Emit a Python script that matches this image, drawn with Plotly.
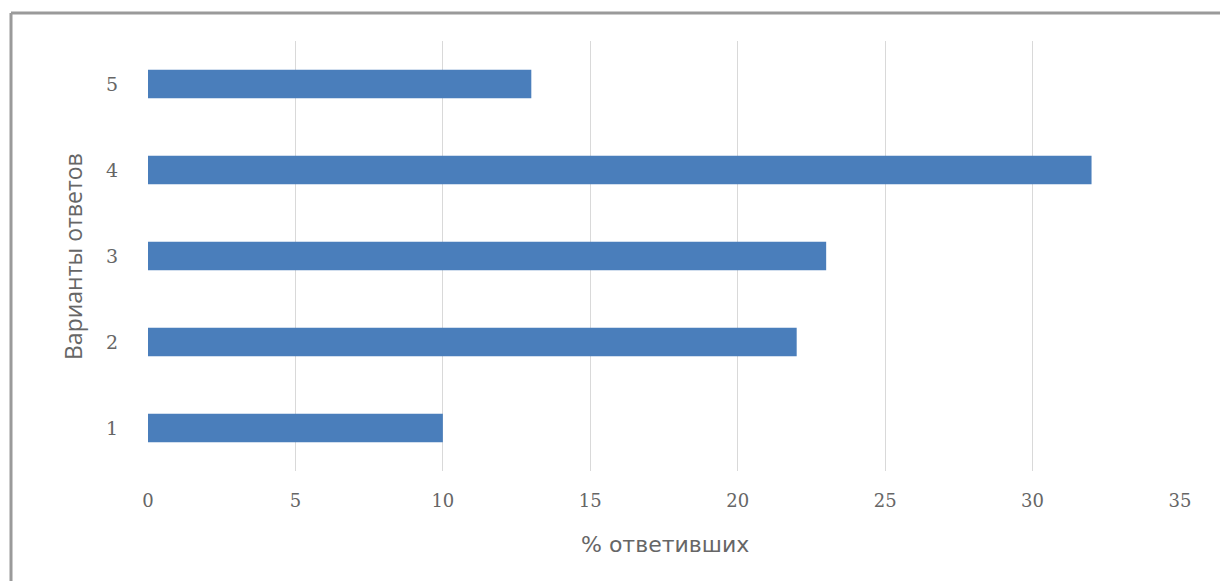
import plotly.graph_objects as go

categories = ["1", "2", "3", "4", "5"]
values = [10, 22, 23, 32, 13]
x_ticks = [0, 5, 10, 15, 20, 25, 30, 35]

W, H = 1220, 581
L, R, T, B = 148, 40, 41, 110
pw, ph = W - L - R, H - T - B

def px(x):
    return (x - L) / pw

def py(y):
    return (H - B - y) / ph

fig = go.Figure(go.Bar(
    x=values, y=categories, orientation="h",
    marker=dict(color="#4a7ebb", line=dict(width=0)),
    width=0.33,
))

fig.update_layout(
    width=W, height=H,
    margin=dict(l=L, r=R, t=T, b=B),
    paper_bgcolor="white", plot_bgcolor="white",
    showlegend=False,
    font=dict(family="DejaVu Serif", color="#595959"),
    xaxis=dict(range=[0, 35], tickvals=x_ticks, showgrid=True, gridcolor="#d9d9d9",
               gridwidth=1, zeroline=False, showline=False,
               tickfont=dict(size=18, family="DejaVu Serif", color="#666666"),
               ticklabelstandoff=17, fixedrange=True),
    yaxis=dict(range=[-0.5, 4.5], type="category", showgrid=False, zeroline=False,
               showline=False, tickfont=dict(size=19, family="DejaVu Serif", color="#666666"),
               ticklabelstandoff=29, fixedrange=True),
    annotations=[
        dict(text="Варианты ответов", xref="paper", yref="paper",
             x=px(73), y=py(257), xanchor="center", yanchor="middle",
             textangle=-90, showarrow=False,
             font=dict(size=23, family="Open Sans", color="#666666")),
        dict(text="% ответивших", xref="paper", yref="paper",
             x=px(665), y=py(544), xanchor="center", yanchor="middle",
             showarrow=False,
             font=dict(size=22, family="DejaVu Sans", color="#666666")),
    ],
    shapes=[
        dict(type="line", xref="paper", yref="paper",
             x0=px(11), x1=px(1220), y0=py(13), y1=py(13),
             line=dict(color="#9a9a9a", width=3)),
        dict(type="line", xref="paper", yref="paper",
             x0=px(11), x1=px(11), y0=py(13), y1=py(581),
             line=dict(color="#9a9a9a", width=3)),
    ],
)

fig.write_html("out.html")
